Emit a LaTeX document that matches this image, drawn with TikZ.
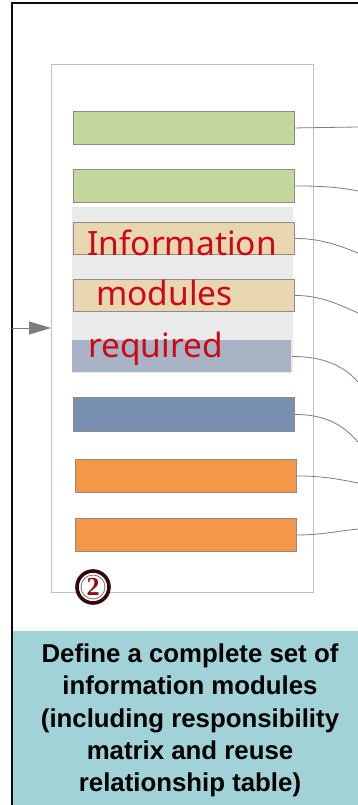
\documentclass[tikz,border=0pt]{standalone}
\usepackage{fontspec}
\setmainfont{Liberation Sans}
\newfontfamily\barfont{Noto Sans}
\newfontfamily\numfont{Liberation Serif}
\usetikzlibrary{arrows.meta}
\definecolor{frameblack}{RGB}{10,10,10}
\definecolor{innergray}{RGB}{192,192,192}
\definecolor{bargreen}{RGB}{195,214,155}
\definecolor{bartan}{RGB}{232,214,176}
\definecolor{barslate}{RGB}{168,180,198}
\definecolor{barsteel}{RGB}{120,143,176}
\definecolor{barorange}{RGB}{244,151,72}
\definecolor{bandgray}{RGB}{234,234,234}
\definecolor{bordergray}{RGB}{140,140,140}
\definecolor{linkgray}{RGB}{125,125,125}
\definecolor{textred}{RGB}{205,8,20}
\definecolor{capcyan}{RGB}{160,210,216}
\definecolor{circdark}{RGB}{50,8,10}
\definecolor{circred}{RGB}{150,10,18}
\tikzset{
  barbox/.style={draw=bordergray, line width=0.9pt, anchor=north west, minimum width=221pt, minimum height=33pt, inner sep=0pt},
  redtext/.style={anchor=base west, text=textred, inner sep=0pt, font=\barfont\fontsize{33.5}{36}\selectfont},
  link/.style={draw=linkgray, line width=0.8pt},
}
\begin{document}
\begin{tikzpicture}[x=1pt,y=-1pt]
\useasboundingbox (0,0) rectangle (358,805);
\fill[white] (0,0) rectangle (358,805);
% caption box
\node[fill=capcyan, anchor=north west, minimum width=346pt, minimum height=174pt, inner sep=0pt] (cap) at (12,631) {};
\node[align=center, font=\bfseries\fontsize{25.8}{32.4}\selectfont, text=black, anchor=north] (captxt) at (190,640)
  {Define a complete set of\\information modules\\(including responsibility\\matrix and reuse\\relationship table)};
% outer frame
\draw[frameblack, line width=2pt] (12,805) -- (12,3) -- (358,3);
% inner frame
\node[draw=innergray, line width=1.4pt, anchor=north west, minimum width=262pt, minimum height=528pt, inner sep=0pt] (inner) at (51,64) {};
% gray band
\fill[bandgray] (72,207) rectangle (293,373);
% bars
\node[barbox, fill=bargreen] (b1) at (73,111) {};
\node[barbox, fill=bargreen] (b2) at (73,169) {};
\node[barbox, fill=bartan, minimum height=32pt] (b3) at (73,222) {};
\node[barbox, fill=bartan, minimum height=32pt] (b4) at (73,279) {};
\node[barbox, fill=barslate, draw=none, minimum width=219pt, minimum height=32pt] (b5) at (72,340) {};
\node[barbox, fill=barsteel, minimum height=34pt] (b6) at (73,397) {};
\node[barbox, fill=barorange] (b7) at (75,459) {};
\node[barbox, fill=barorange] (b8) at (75,518) {};
% red text
\node[redtext] (t1) at (87,255) {Information};
\node[redtext] (t2) at (96,305) {modules};
\node[redtext] (t3) at (88,357) {required};
% input arrow
\coordinate (ain) at (12,328);
\coordinate (aout) at (51,328);
\draw[draw=linkgray, line width=1pt, -{Triangle[length=22pt,width=13pt]}] (ain) -- (aout);
% right-side end points
\coordinate (e1) at (358,127);
\coordinate (e2) at (358,191);
\coordinate (e3) at (358,253);
\coordinate (e4) at (358,313);
\coordinate (e5) at (358,382);
\coordinate (e6) at (358,442);
\coordinate (e7) at (358,483);
\coordinate (e8) at (358,529);
% connectors
\draw[link] (b1.east) -- (e1);
\draw[link] (b2.east) .. controls +(25,0) and +(-20,-4) .. (e2);
\draw[link] (b3.east) .. controls +(25,0) and +(-20,-8) .. (e3);
\draw[link] (b4.east) .. controls +(25,0) and +(-20,-9) .. (e4);
\draw[link] (b5.east) .. controls +(32,0) and +(-14,-16) .. (e5);
\draw[link] (b6.east) .. controls +(32,0) and +(-14,-16) .. (e6);
\draw[link] (b7.east) .. controls +(25,0) and +(-20,-4) .. (e7);
\draw[link] (b8.east) .. controls +(25,0) and +(-20,2) .. (e8);
% step number
\node[circle, draw=circdark, line width=3.6pt, fill=white, minimum size=32pt, inner sep=0pt] (num) at (93,587) {};
\draw[circdark!60, line width=0.8pt] (num.center) circle (12pt);
\node[font=\numfont\bfseries\fontsize{26}{26}\selectfont, text=circred, inner sep=0pt] (numtxt) at (num.center) {2};
\end{tikzpicture}
\end{document}
